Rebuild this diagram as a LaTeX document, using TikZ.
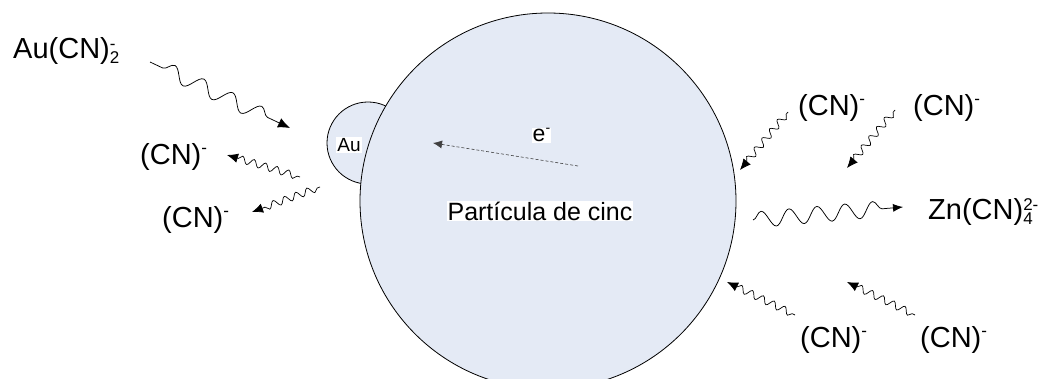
\documentclass[tikz,border=0pt]{standalone}
\usepackage{fontspec}
\setmainfont{Liberation Sans}
\usetikzlibrary{decorations.pathmorphing,arrows.meta}
\definecolor{zinc}{RGB}{228,234,245}
\newcommand\ionstack[2]{\raisebox{-5pt}{\fontsize{17}{17}\selectfont\lineskip=4pt\shortstack[l]{#1\\#2}}}
\newcommand\ionminus{\raisebox{11pt}{\fontsize{17}{17}\selectfont -}}
\begin{document}
\begin{tikzpicture}[x=1pt,y=-1pt,
  lbl/.style={inner sep=0pt, anchor=base west, font=\fontsize{29}{32}\selectfont},
  wavebig/.style={-{Latex[length=12pt,width=10pt]}, line width=0.75pt, decorate,
    decoration={snake, amplitude=7.5, segment length=32, pre length=14, post length=12}},
  wavesmall/.style={-{Latex[length=11pt,width=9.5pt]}, line width=0.7pt, decorate,
    decoration={snake, amplitude=3.5, segment length=12, pre length=3, post length=10}},
  hl/.style={fill=white, inner sep=1pt},
  ball/.style={circle, draw, line width=0.8pt, fill=zinc, inner sep=0pt}]
\useasboundingbox (0,0) rectangle (1043,379);
\begin{scope}
  \clip (0,0) rectangle (1043,379);
  \node[ball, minimum size=82] (au) at (368,143) {};
  \node[ball, minimum size=376] (zn) at (548,201) {};
\end{scope}
\node[hl, font=\fontsize{19}{20}\selectfont] (aul) at (349,145) {Au};
\node[hl, font=\fontsize{25}{26}\selectfont] (part) at (540,211) {Partícula de cinc};
\node[hl, inner sep=0.5pt, anchor=base west, font=\fontsize{23}{24}\selectfont] (el) at (532,142) {e\raisebox{9pt}{\fontsize{14}{14}\selectfont -}};
\coordinate (e1) at (578,166);
\coordinate (e2) at (433,143);
\draw[densely dashed, line width=0.6pt, draw=black!75, -{Latex[length=9pt,width=8pt]}] (e1) -- (e2);

\node[lbl] (aucn) at (13,59) {Au(CN)\ionstack{-}{2}};
\node[lbl] (cn1) at (140,165) {(CN)\ionminus};
\node[lbl] (cn2) at (162,228) {(CN)\ionminus};
\node[lbl] (cn3) at (798,116) {(CN)\ionminus};
\node[lbl] (cn4) at (913,116) {(CN)\ionminus};
\node[lbl] (znl) at (928,220) {Zn(CN)\ionstack{2-}{4}};
\node[lbl] (cn5) at (800,347) {(CN)\ionminus};
\node[lbl] (cn6) at (920,347) {(CN)\ionminus};

\coordinate (s1) at (150,62);  \coordinate (t1) at (290,128);
\coordinate (s2) at (300,177); \coordinate (t2) at (227,155);
\coordinate (s3) at (320,187); \coordinate (t3) at (252,212);
\coordinate (s4) at (788,112); \coordinate (t4) at (740,170);
\coordinate (s5) at (895,110); \coordinate (t5) at (847,168);
\coordinate (s6) at (753,220); \coordinate (t6) at (903,207);
\coordinate (s7) at (795,315); \coordinate (t7) at (727,282);
\coordinate (s8) at (915,315); \coordinate (t8) at (847,282);

\draw[wavebig] (s1) -- (t1);
\draw[wavesmall] (s2) -- (t2);
\draw[wavesmall] (s3) -- (t3);
\draw[wavesmall] (s4) -- (t4);
\draw[wavesmall] (s5) -- (t5);
\draw[wavebig, -{Latex[length=10pt,width=8pt]}, decoration={amplitude=8, segment length=28, pre length=0, post length=14}] (s6) -- (t6);
\draw[wavesmall] (s7) -- (t7);
\draw[wavesmall] (s8) -- (t8);
\end{tikzpicture}
\end{document}
